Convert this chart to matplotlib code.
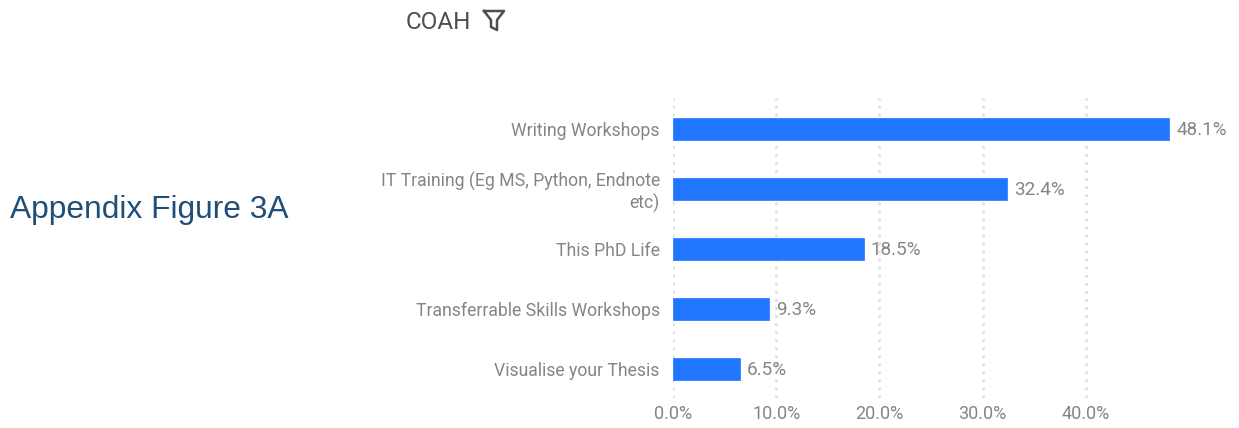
import matplotlib
matplotlib.use("Agg")
import matplotlib.pyplot as plt
from matplotlib.lines import Line2D

categories = ["Writing Workshops", "IT Training (Eg MS, Python, Endnote\netc)",
              "This PhD Life", "Transferrable Skills Workshops", "Visualise your Thesis"]
values = [48.1, 32.4, 18.5, 9.3, 6.5]
ticks = [0, 10, 20, 30, 40]
tick_labels = ["0.0%", "10.0%", "20.0%", "30.0%", "40.0%"]

W, H = 1239, 428
BLUE = "#2176FF"
GREY = "#858585"
FONT = "Roboto"

fig = plt.figure(figsize=(W / 100, H / 100), dpi=100, facecolor="white")
ax = fig.add_axes([673 / W, 1 - 398 / H, (W - 673) / W, 300 / H])
ax.set_xlim(0, (W - 673) / 10.32)
ax.set_ylim(4.483, -0.517)
for s in ax.spines.values():
    s.set_visible(False)
ax.set_xticks(ticks)
ax.set_xticklabels(tick_labels)
ax.set_yticks(range(len(categories)))
ax.set_yticklabels(categories, linespacing=1.15)
ax.tick_params(axis="x", length=0, labelsize=13, labelcolor=GREY, pad=5)
ax.tick_params(axis="y", length=0, labelsize=12.7, labelcolor=GREY, pad=9.5)
for t in ax.get_xticklabels() + ax.get_yticklabels():
    t.set_fontfamily(FONT)
ax.set_axisbelow(True)
ax.grid(axis="x", color="#DDDFE1", linewidth=2.0, linestyle=(0, (1, 1.9)))
ax.grid(axis="y", visible=False)
ax.patch.set_alpha(0)

bars = ax.barh(range(len(values)), values, height=22.5 / 60, color=BLUE,
               edgecolor=BLUE, linewidth=0.5, joinstyle="round")
for b, v in zip(bars, values):
    ax.annotate(f"{v:.1f}%", (v, b.get_y() + b.get_height() / 2), xytext=(5.0, -0.8),
                textcoords="offset points", va="center", ha="left",
                fontsize=13.6, color=GREY, family=FONT)

fig.text(10 / W, 1 - 210 / H, "Appendix Figure 3A", fontsize=22.85, color="#1F4E79",
         family="Liberation Sans", va="center", ha="left")
fig.text(406 / W, 1 - 22.5 / H, "COAH", fontsize=17.5, color="#4A4F55",
         family=FONT, va="center", ha="left")

# filter icon
ix = [484, 504, 497, 497, 491, 491, 484]
iy = [11, 11, 20, 30, 27, 20, 11]
fig.add_artist(Line2D([x / W for x in ix], [1 - y / H for y in iy], color="#4A4F55",
                      linewidth=1.8, solid_joinstyle="round", transform=fig.transFigure))

fig.savefig("out.png", dpi=100)
